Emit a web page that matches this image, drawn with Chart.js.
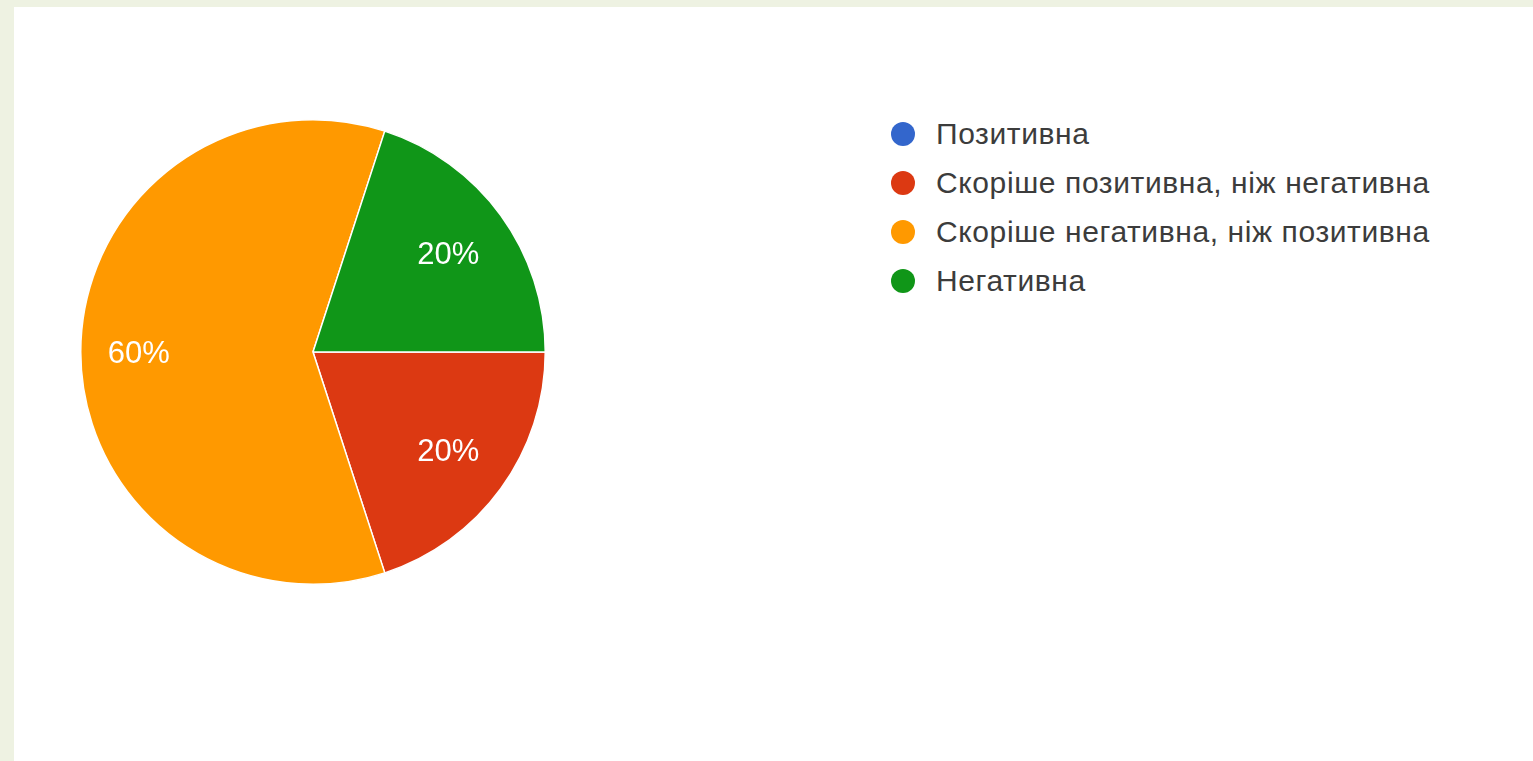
<!DOCTYPE html>
<html>
<head>
<meta charset="utf-8">
<script src="https://cdn.jsdelivr.net/npm/chart.js@4"></script>
<style>
  html, body { margin: 0; padding: 0; }
  body { width: 1533px; height: 761px; background: #eef2e2; position: relative; overflow: hidden; }
  #panel { position: absolute; left: 14px; top: 7px; right: 0; bottom: 0; background: #fff; }
  #pieBox { position: absolute; left: 66px; top: 112px; width: 466px; height: 466px; }
  #legenda { position: absolute; left: 877px; top: 102px; font-family: "Liberation Sans", Arial, sans-serif; font-size: 30px; letter-spacing: 0.6px; color: #3c3c3c; }
  #legenda div { height: 49px; display: flex; align-items: center; }
  #legenda span.dot { display: inline-block; width: 24px; height: 24px; border-radius: 50%; margin-right: 21px; }
</style>
</head>
<body>
<div id="panel">
  <div id="pieBox"><canvas id="graficoPizza"></canvas></div>
  <div id="legenda"></div>
</div>
<script>
var categorias = ['Позитивна', 'Скоріше позитивна, ніж негативна', 'Скоріше негативна, ніж позитивна', 'Негативна'];
var valores = [0, 20, 60, 20];
var cores = ['#3366cc', '#dc3912', '#ff9900', '#109618'];

// percent labels inside the slices
var rotulos = {
    id: 'rotulos',
    afterDatasetsDraw: function (chart) {
        var ctx = chart.ctx;
        var total = valores.reduce(function (a, b) { return a + b; }, 0);
        ctx.save();
        ctx.font = '31px "Liberation Sans", Arial, sans-serif';
        ctx.fillStyle = '#ffffff';
        ctx.textAlign = 'center';
        ctx.textBaseline = 'middle';
        chart.getDatasetMeta(0).data.forEach(function (arc, i) {
            if (!valores[i]) return;
            var p = arc.getProps(['x', 'y', 'startAngle', 'endAngle', 'outerRadius'], true);
            var meio = (p.startAngle + p.endAngle) / 2;
            var r = p.outerRadius * (valores[i] / total > 0.5 ? 0.75 : 0.72);
            ctx.fillText(Math.round(valores[i] / total * 100) + '%', p.x + Math.cos(meio) * r, p.y + Math.sin(meio) * r + 2);
        });
        ctx.restore();
    }
};

new Chart(document.getElementById('graficoPizza'), {
    type: 'pie',
    data: {
        labels: categorias,
        datasets: [{
            data: valores,
            backgroundColor: cores,
            borderColor: '#ffffff',
            borderWidth: 1.5
        }]
    },
    options: {
        responsive: true,
        maintainAspectRatio: false,
        animation: false,
        rotation: 90,
        layout: { padding: 0 },
        plugins: {
            legend: { display: false },
            tooltip: { enabled: false }
        }
    },
    plugins: [rotulos]
});

var legenda = document.getElementById('legenda');
categorias.forEach(function (nome, i) {
    var linha = document.createElement('div');
    linha.innerHTML = '<span class="dot" style="background:' + cores[i] + '"></span>' + nome;
    legenda.appendChild(linha);
});
</script>
</body>
</html>
